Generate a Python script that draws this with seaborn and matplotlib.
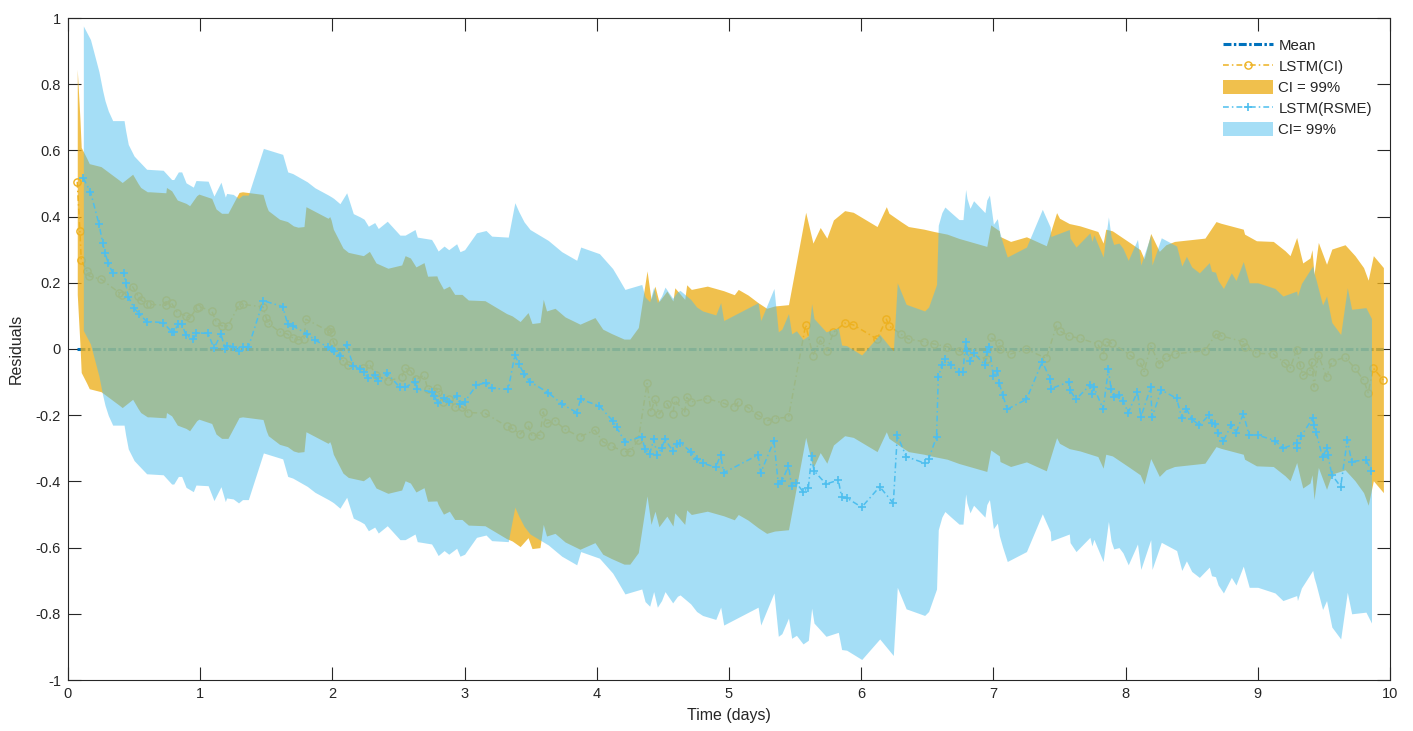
import numpy as np
import matplotlib
matplotlib.use("Agg")
import matplotlib.pyplot as plt
from matplotlib.lines import Line2D
from matplotlib.patches import Patch
import seaborn as sns

# ---------------- data ----------------
x_ci = [0.07, 0.09, 0.10, 0.141, 0.161, 0.25, 0.388, 0.41, 0.489, 0.53, 0.55, 0.60, 0.62,
        0.74, 0.745, 0.784, 0.827, 0.893, 0.92, 0.973, 0.99, 1.087, 1.12, 1.162, 1.21,
        1.294, 1.32, 1.475, 1.50, 1.515, 1.60, 1.66, 1.705, 1.74, 1.785, 1.80, 1.967,
        1.98, 1.99, 2.007, 2.08, 2.12, 2.234, 2.28, 2.33, 2.42, 2.524, 2.55, 2.59, 2.632,
        2.693, 2.72, 2.79, 2.80, 2.84, 2.885, 2.925, 2.98, 3.028, 3.154, 3.318, 3.36,
        3.42, 3.48, 3.51, 3.57, 3.595, 3.62, 3.684, 3.76, 3.873, 3.986, 4.045, 4.11,
        4.206, 4.25, 4.314, 4.38, 4.41, 4.44, 4.47, 4.53, 4.576, 4.59, 4.665, 4.68,
        4.715, 4.836, 4.96, 5.04, 5.07, 5.144, 5.22, 5.285, 5.345, 5.45, 5.58, 5.635,
        5.69, 5.74, 5.79, 5.875, 5.94, 6.12, 6.19, 6.21, 6.30, 6.357, 6.475, 6.55, 6.65,
        6.74, 6.95, 6.98, 7.045, 7.05, 7.13, 7.25, 7.40, 7.478, 7.50, 7.574, 7.655,
        7.79, 7.83, 7.85, 7.90, 8.03, 8.11, 8.14, 8.19, 8.255, 8.305, 8.37, 8.60, 8.684,
        8.72, 8.89, 8.90, 8.99, 9.117, 9.206, 9.244, 9.294, 9.32, 9.34, 9.395, 9.41,
        9.425, 9.458, 9.52, 9.56, 9.66, 9.735, 9.80, 9.835, 9.874, 9.95]
y_ci = [0.505, 0.357, 0.269, 0.237, 0.22, 0.211, 0.17, 0.163, 0.188, 0.16, 0.148, 0.135, 0.135,
        0.132, 0.148, 0.138, 0.11, 0.10, 0.093, 0.123, 0.128, 0.115, 0.083, 0.07, 0.07,
        0.133, 0.135, 0.127, 0.093, 0.078, 0.052, 0.045, 0.032, 0.028, 0.03, 0.09, 0.055,
        0.06, 0.05, 0.022, -0.035, -0.048, -0.058, -0.045, -0.08, -0.096, -0.086, -0.058, -0.065, -0.092,
        -0.079, -0.12, -0.119, -0.13, -0.159, -0.15, -0.175, -0.175, -0.192, -0.194, -0.233, -0.24,
        -0.257, -0.23, -0.263, -0.26, -0.19, -0.225, -0.217, -0.243, -0.265, -0.245, -0.28, -0.293,
        -0.31, -0.31, -0.275, -0.104, -0.19, -0.15, -0.197, -0.165, -0.195, -0.155, -0.19, -0.146,
        -0.16, -0.15, -0.164, -0.176, -0.16, -0.177, -0.20, -0.217, -0.21, -0.206, 0.073, -0.02,
        0.027, -0.005, 0.05, 0.078, 0.073, 0.03, 0.09, 0.07, 0.045, 0.03, 0.022, 0.015, 0.007,
        -0.006, -0.03, 0.035, 0.017, 0.0, -0.015, -0.001, -0.028, 0.072, 0.055, 0.039, 0.032,
        0.015, -0.02, 0.022, 0.017, -0.018, -0.04, -0.068, 0.009, -0.045, -0.025, -0.015, -0.005, 0.045,
        0.04, 0.022, 0.007, -0.013, -0.015, -0.043, -0.058, -0.003, -0.048, -0.08, -0.065, -0.04,
        -0.115, -0.018, -0.084, -0.038, -0.025, -0.058, -0.094, -0.132, -0.058, -0.094]
hw_ci = 0.34          # half width of the 99% CI band of LSTM(CI)

x_rm = [0.116, 0.17, 0.234, 0.262, 0.28, 0.305, 0.338, 0.424, 0.436, 0.456, 0.50, 0.54, 0.595,
        0.72, 0.784, 0.80, 0.835, 0.86, 0.893, 0.948, 0.968, 1.06, 1.104, 1.157, 1.19, 1.20,
        1.25, 1.29, 1.32, 1.364, 1.478, 1.624, 1.662, 1.70, 1.81, 1.868, 1.97, 1.995, 2.01,
        2.057, 2.108, 2.158, 2.21, 2.24, 2.272, 2.32, 2.347, 2.415, 2.511, 2.55, 2.625, 2.642,
        2.75, 2.77, 2.80, 2.845, 2.88, 2.94, 2.965, 3.0, 3.09, 3.162, 3.205, 3.33, 3.38, 3.41,
        3.45, 3.495, 3.633, 3.735, 3.848, 3.878, 4.02, 4.12, 4.15, 4.213, 4.34, 4.365, 4.40,
        4.43, 4.458, 4.49, 4.516, 4.574, 4.61, 4.63, 4.71, 4.755, 4.80, 4.90, 4.937, 4.96,
        5.22, 5.24, 5.34, 5.373, 5.40, 5.45, 5.474, 5.51, 5.56, 5.60, 5.625, 5.643, 5.734,
        5.827, 5.852, 5.89, 6.004, 6.14, 6.243, 6.273, 6.34, 6.48, 6.51, 6.57, 6.583, 6.61,
        6.633, 6.68, 6.74, 6.77, 6.79, 6.80, 6.823, 6.85, 6.936, 6.95, 6.97, 7.0, 7.03, 7.045,
        7.07, 7.105, 7.25, 7.37, 7.43, 7.435, 7.574, 7.58, 7.625, 7.73, 7.745, 7.76, 7.83,
        7.87, 7.89, 7.91, 7.95, 7.98, 8.02, 8.09, 8.115, 8.19, 8.20, 8.27, 8.386, 8.425, 8.46,
        8.50, 8.558, 8.633, 8.65, 8.68, 8.70, 8.74, 8.80, 8.835, 8.89, 8.935, 9.0, 9.13, 9.19,
        9.294, 9.30, 9.33, 9.415, 9.425, 9.44, 9.49, 9.52, 9.53, 9.56, 9.627, 9.677, 9.71,
        9.818, 9.86]
y_rm = [0.516, 0.475, 0.378, 0.321, 0.29, 0.259, 0.23, 0.23, 0.2, 0.158, 0.123, 0.106, 0.083,
        0.08, 0.052, 0.052, 0.075, 0.075, 0.042, 0.029, 0.049, 0.047, 0.002, 0.044, -0.001, 0.01,
        0.007, -0.005, 0.005, 0.005, 0.146, 0.128, 0.075, 0.07, 0.045, 0.027, 0.005, -0.001, -0.005,
        -0.021, 0.012, -0.051, -0.061, -0.068, -0.089, -0.078, -0.096, -0.074, -0.116, -0.116, -0.099, -0.122,
        -0.129, -0.142, -0.164, -0.149, -0.16, -0.142, -0.166, -0.16, -0.109, -0.102, -0.119, -0.122, -0.018, -0.045,
        -0.076, -0.099, -0.132, -0.166, -0.192, -0.152, -0.172, -0.217, -0.237, -0.28, -0.265, -0.303, -0.317,
        -0.273, -0.32, -0.30, -0.273, -0.307, -0.287, -0.283, -0.31, -0.333, -0.345, -0.357, -0.32, -0.374,
        -0.32, -0.374, -0.277, -0.408, -0.40, -0.353, -0.414, -0.405, -0.431, -0.42, -0.323, -0.368, -0.408,
        -0.396, -0.448, -0.45, -0.478, -0.416, -0.466, -0.26, -0.325, -0.345, -0.333, -0.265, -0.086, -0.048,
        -0.031, -0.048, -0.069, -0.069, 0.022, -0.005, -0.035, -0.012, -0.048, -0.01, 0.005, -0.083, -0.066, -0.104,
        -0.139, -0.182, -0.152, -0.038, -0.092, -0.12, -0.099, -0.125, -0.152, -0.109, -0.135, -0.115, -0.182,
        -0.061, -0.12, -0.144, -0.14, -0.156, -0.192, -0.129, -0.206, -0.116, -0.206, -0.124, -0.149, -0.209, -0.18,
        -0.212, -0.23, -0.199, -0.225, -0.228, -0.253, -0.277, -0.23, -0.253, -0.196, -0.26, -0.26, -0.277, -0.30,
        -0.285, -0.30, -0.262, -0.209, -0.23, -0.25, -0.327, -0.30, -0.32, -0.38, -0.416, -0.275, -0.34,
        -0.335, -0.368]
hw_rm = 0.46          # half width of the 99% CI band of LSTM(RSME)

mean_x = [0.07, 9.95]
mean_y = [0.0, 0.0]

xticks = list(range(0, 11))
yticks = [-1, -0.8, -0.6, -0.4, -0.2, 0, 0.2, 0.4, 0.6, 0.8, 1]
ytick_labels = ["-1", "-0.8", "-0.6", "-0.4", "-0.2", "0", "0.2", "0.4", "0.6", "0.8", "1"]
legend_labels = ["Mean", "LSTM(CI)", "CI = 99%", "LSTM(RSME)", "CI= 99%"]

# ---------------- style ----------------
sns.set_style("ticks")
plt.rcParams["font.family"] = ["Liberation Sans", "DejaVu Sans"]
TXT = "#262626"

C_MEAN = "#0072BD"
C_ORG = "#EDB120"
C_BLU = "#4DBEEE"

fig = plt.figure(figsize=(14.13, 7.31), dpi=100)
ax = fig.add_axes([68 / 1413, (731 - 680) / 731, 1322 / 1413, 662 / 731])

xc = np.array(x_ci); yc = np.array(y_ci)
xr = np.array(x_rm); yr = np.array(y_rm)

MEAN_LW = 2.2
mean_ls = (0, (2.6, 0.8, 0.8, 0.8))
line_ls = (0, (3.8, 2.0, 1.0, 2.0))

sns.lineplot(x=mean_x, y=mean_y, ax=ax, color=C_MEAN, sort=False, estimator=None,
             legend=False, zorder=1)
mean_line = ax.lines[-1]
mean_line.set_linewidth(MEAN_LW)
mean_line.set_linestyle(mean_ls)
mean_line.set_dash_capstyle("butt")

ax.fill_between(xc, yc - hw_ci, yc + hw_ci, color=C_ORG, alpha=0.8, linewidth=0, zorder=2)

sns.lineplot(x=xc, y=yc, ax=ax, color=C_ORG, linewidth=1.1, linestyle=line_ls,
             marker="o", markersize=5.2, markerfacecolor="none", markeredgecolor=C_ORG,
             markeredgewidth=1.0, sort=False, estimator=None, legend=False, zorder=3)

ax.fill_between(xr, yr - hw_rm, yr + hw_rm, color=C_BLU, alpha=0.5, linewidth=0, zorder=4)

sns.lineplot(x=xr, y=yr, ax=ax, color=C_BLU, linewidth=1.1, linestyle=line_ls,
             marker="+", markersize=5.5, markeredgecolor=C_BLU, markeredgewidth=1.2,
             sort=False, estimator=None, legend=False, zorder=5)

# ---------------- axes ----------------
ax.set_xlim(0, 10)
ax.set_ylim(-1, 1)
ax.set_xticks(xticks)
ax.set_xticklabels([str(t) for t in xticks])
ax.set_yticks(yticks)
ax.set_yticklabels(ytick_labels)
ax.tick_params(direction="in", length=9.5, width=0.8, color=TXT, labelcolor=TXT,
               labelsize=10.5, top=True, right=True, pad=5)
for s in ax.spines.values():
    s.set_color(TXT)
    s.set_linewidth(0.8)
    s.set_visible(True)
ax.set_xlabel("Time (days)", fontsize=11.5, color=TXT, labelpad=5)
ax.set_ylabel("Residuals", fontsize=11.5, color=TXT, labelpad=9)
ax.grid(False)

handles = [
    Line2D([], [], color=C_MEAN, linewidth=MEAN_LW, linestyle=mean_ls, dash_capstyle="butt"),
    Line2D([], [], color=C_ORG, linewidth=1.1, linestyle=line_ls, marker="o",
           markersize=5.2, markerfacecolor="none", markeredgecolor=C_ORG),
    Patch(facecolor=C_ORG, alpha=0.8, edgecolor="none"),
    Line2D([], [], color=C_BLU, linewidth=1.1, linestyle=line_ls, marker="+",
           markersize=5.5, markeredgecolor=C_BLU, markeredgewidth=1.2),
    Patch(facecolor=C_BLU, alpha=0.5, edgecolor="none"),
]
leg = ax.legend(handles, legend_labels, loc="upper left",
                bbox_to_anchor=((1223 - 68) / 1322, (680 - 38) / 662),
                frameon=False, fontsize=10.8, borderpad=0, borderaxespad=0,
                handlelength=3.3, handleheight=1.1, handletextpad=0.4,
                labelspacing=0.38, numpoints=1)
for t in leg.get_texts():
    t.set_color(TXT)

fig.savefig("out.png", dpi=100)
